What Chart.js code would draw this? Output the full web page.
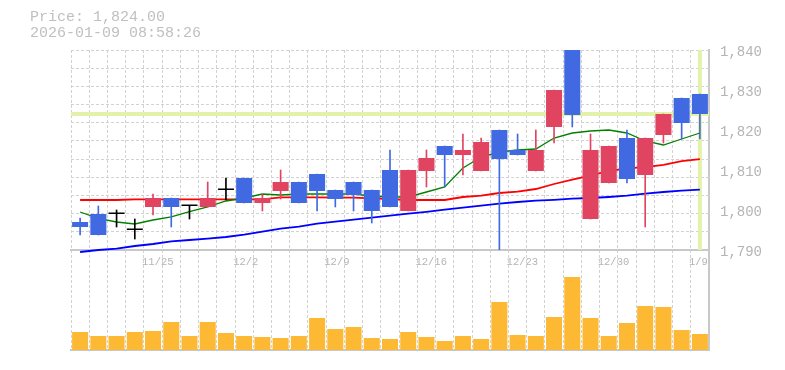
<!DOCTYPE html>
<html>
<head>
<meta charset="utf-8">
<script src="https://cdn.jsdelivr.net/npm/chart.js@4.4.1/dist/chart.umd.min.js"></script>
<style>
  html, body { margin: 0; padding: 0; background: #fff; }
  #marco { position: relative; width: 785px; height: 370px; }
  #marco canvas { position: absolute; left: 0; top: 0; }
</style>
</head>
<body>
<div id="marco">
  <canvas id="volChart" width="785" height="370"></canvas>
  <canvas id="precioChart" width="785" height="370"></canvas>
</div>
<script>
// Datos (velas diarias)
const fechas = ['11/18','11/19','11/20','11/21','11/25','11/26','11/27','11/28','12/1','12/2',
  '12/3','12/4','12/5','12/8','12/9','12/10','12/11','12/12','12/15','12/16',
  '12/17','12/18','12/19','12/22','12/23','12/24','12/25','12/26','12/29','12/30',
  '1/5','1/6','1/7','1/8','1/9'];
const fechasMarcadas = ['11/25','12/2','12/9','12/16','12/23','12/30','1/9'];

const apertura = [1797, 1799, 1799, 1795, 1800.75, 1803, 1801, 1800.75, 1805, 1808,
  1801.75, 1804.75, 1807, 1809, 1805, 1807, 1805, 1810, 1799.75, 1809.75,
  1816, 1813.75, 1809.75, 1820, 1815, 1809.75, 1820.75, 1841, 1797.75, 1806.75,
  1818, 1808.75, 1818.75, 1828, 1829];
const maximo = [1798, 1801, 1800, 1797.75, 1804, 1803, 1801, 1807, 1808, 1808,
  1804, 1810, 1807, 1809, 1805, 1807, 1805, 1815, 1810, 1815,
  1816, 1819, 1818, 1820, 1819, 1820, 1830, 1841, 1819, 1816,
  1820, 1818, 1824, 1828, 1829];
const minimo = [1793.75, 1793.75, 1795.75, 1792.75, 1798.75, 1795.75, 1797.75, 1800.75, 1802.5, 1801.75,
  1799.75, 1802.75, 1801.75, 1799.75, 1800.75, 1799.75, 1796.75, 1800.75, 1799.75, 1805.75,
  1805.75, 1808.75, 1809.75, 1790, 1813.75, 1809.75, 1816.75, 1820.75, 1797.75, 1806.75,
  1806.75, 1795.75, 1816.75, 1817.75, 1817.75];
const cierre = [1795.75, 1793.75, 1799, 1795, 1803, 1800.75, 1801, 1803, 1805, 1801.75,
  1803, 1807, 1801.75, 1804.75, 1802.75, 1803.75, 1799.75, 1800.75, 1810, 1813,
  1813.75, 1815, 1817, 1812.75, 1813.75, 1815, 1830, 1823.75, 1815, 1816,
  1807.75, 1818, 1824, 1821.75, 1824];

const media5 = [1799.5, 1797.9, 1797, 1796.5, 1797.5, 1798.3, 1799.6, 1800.8, 1802.25, 1803,
  1804, 1803.75, 1804, 1804, 1804, 1804, 1803.5, 1803.25, 1803.25, 1804.5,
  1805.75, 1810.5, 1813.25, 1814.5, 1815, 1815.25, 1818, 1819.25, 1819.75, 1820,
  1819.25, 1817.25, 1816.25, 1817.75, 1819.25];
const media25 = [1802.5, 1802.5, 1802.5, 1802.65, 1802.65, 1802.65, 1802.65, 1802.65, 1802.65, 1802.65,
  1802.65, 1803.15, 1803.15, 1803.15, 1803.1, 1803.1, 1802.9, 1802.75, 1802.5, 1802.5,
  1802.5, 1803.25, 1803.6, 1804.25, 1804.6, 1805.25, 1806.5, 1807.6, 1808.6, 1809.75,
  1810.4, 1810.7, 1811.3, 1812.2, 1812.7];
const media75 = [1789.5, 1790, 1790.35, 1791, 1791.5, 1792.15, 1792.5, 1792.85, 1793.25, 1793.85,
  1794.6, 1795.35, 1795.85, 1796.6, 1797.1, 1797.6, 1798.1, 1798.6, 1799.1, 1799.55,
  1800.1, 1800.6, 1801.1, 1801.6, 1802, 1802.35, 1802.55, 1802.85, 1803, 1803.25,
  1803.6, 1804.1, 1804.5, 1804.85, 1805.1];

const volumen = [180, 140, 140, 180, 190, 280, 140, 280, 170, 140,
  130, 120, 140, 320, 210, 230, 120, 110, 180, 130,
  90, 140, 110, 480, 150, 140, 330, 730, 320, 140,
  270, 440, 430, 200, 160];

const precioTicks = [1790, 1800, 1810, 1820, 1830, 1840];
const titulo = ['Price: 1,824.00', '2026-01-09 08:58:26'];

const ROJO = '#e04460';
const AZUL = '#4169e1';
const NEGRO = '#000000';
const GRIS_REJILLA = '#d2d2d2';
const GRIS_BORDE = '#c8c8c8';
const GRIS_TEXTO = '#b4b4b4';

// Color de cada vela: sube rojo, baja azul, igual negro
function colorVela(i) {
  if (cierre[i] > apertura[i]) return ROJO;
  if (cierre[i] < apertura[i]) return AZUL;
  return NEGRO;
}
const colores = fechas.map((_, i) => colorVela(i));

// Línea del último precio (horizontal y vertical)
const lineaPrecio = {
  id: 'lineaPrecio',
  beforeDatasetsDraw(chart) {
    const { ctx, chartArea, scales } = chart;
    const ult = cierre.length - 1;
    const y = scales.y.getPixelForValue(cierre[ult]);
    const x = scales.x.getPixelForValue(ult);
    ctx.save();
    ctx.strokeStyle = '#e2f2aa';
    ctx.lineWidth = 4;
    ctx.beginPath();
    ctx.moveTo(chartArea.left, y);
    ctx.lineTo(chartArea.right, y);
    ctx.moveTo(x, chartArea.top);
    ctx.lineTo(x, chartArea.bottom);
    ctx.stroke();
    ctx.restore();
  }
};

// Volumen (capa de abajo, con la rejilla vertical completa)
new Chart(document.getElementById('volChart'), {
  type: 'bar',
  data: {
    labels: fechas,
    datasets: [{
      data: volumen,
      yAxisID: 'vol',
      backgroundColor: '#fdb933',
      barPercentage: 0.88,
      categoryPercentage: 1
    }]
  },
  options: {
    responsive: false,
    animation: false,
    layout: { padding: { left: 71, right: 0, top: 50, bottom: 20 } },
    plugins: { legend: { display: false }, tooltip: { enabled: false } },
    scales: {
      x: {
        grid: { color: GRIS_REJILLA, drawTicks: false, offset: true },
        border: { display: true, color: GRIS_BORDE, width: 2, dash: [3, 2] },
        ticks: { display: false },
        afterFit: s => { s.height = 0; }
      },
      vol: {
        axis: 'y',
        position: 'right',
        min: 0,
        max: 3000,
        grid: { display: false, drawTicks: false },
        border: { display: true, color: GRIS_BORDE, width: 2 },
        ticks: { display: false },
        afterFit: s => { s.width = 76; }
      }
    }
  }
});

// Precio (velas + medias)
new Chart(document.getElementById('precioChart'), {
  type: 'bar',
  data: {
    labels: fechas,
    datasets: [
      { type: 'line', data: media5, yAxisID: 'y', borderColor: '#008000', borderWidth: 1.3,
        pointRadius: 0, tension: 0, clip: false, order: 3 },
      { type: 'line', data: media25, yAxisID: 'y', borderColor: '#ff0000', borderWidth: 1.8,
        pointRadius: 0, tension: 0, clip: false, order: 3 },
      { type: 'line', data: media75, yAxisID: 'y', borderColor: '#0000ff', borderWidth: 1.8,
        pointRadius: 0, tension: 0, clip: false, order: 3 },
      { data: fechas.map((_, i) => [minimo[i], maximo[i]]), yAxisID: 'y',
        backgroundColor: colores, barThickness: 1, grouped: false, order: 2 },
      { data: fechas.map((_, i) => [apertura[i], cierre[i]]), yAxisID: 'y',
        backgroundColor: colores, barPercentage: 0.88, categoryPercentage: 1,
        minBarLength: 1.5, grouped: false, order: 1 }
    ]
  },
  options: {
    responsive: false,
    animation: false,
    layout: { padding: { left: 30, right: 0, top: 0, bottom: 100 } },
    plugins: {
      legend: { display: false },
      tooltip: { enabled: false },
      title: {
        display: true,
        text: titulo,
        align: 'start',
        color: '#c0c0c0',
        font: { family: 'Liberation Mono', size: 15, weight: 'normal', lineHeight: 16 / 15 },
        padding: { top: 9, bottom: 9 }
      }
    },
    scales: {
      x: {
        grid: { display: false, drawTicks: false },
        border: { display: true, color: GRIS_BORDE, width: 2 },
        ticks: {
          autoSkip: false,
          maxRotation: 0,
          align: 'start',
          labelOffset: -11,
          padding: 6,
          color: GRIS_TEXTO,
          font: { family: 'Liberation Mono', size: 10.5 },
          callback: (v, i) => fechasMarcadas.includes(fechas[i]) ? fechas[i] : ''
        },
        afterFit: s => { s.height = 20; }
      },
      y: {
        position: 'right',
        min: precioTicks[0],
        max: precioTicks[precioTicks.length - 1],
        afterBuildTicks: s => { s.ticks = precioTicks.map(v => ({ value: v })); },
        grid: { display: false, drawTicks: false },
        border: { display: false },
        ticks: {
          padding: 11,
          labelOffset: 2.5,
          color: GRIS_TEXTO,
          font: { family: 'Liberation Mono', size: 14 },
          callback: v => v.toLocaleString('en-US')
        },
        afterFit: s => { s.width = 76; }
      },
      rejilla: {
        axis: 'y',
        position: 'left',
        min: 0,
        max: 11,
        ticks: { display: false, stepSize: 1 },
        grid: { color: GRIS_REJILLA, drawTicks: false },
        border: { display: false, dash: [3, 2] },
        afterFit: s => { s.width = 41; }
      }
    }
  },
  plugins: [lineaPrecio]
});
</script>
</body>
</html>
